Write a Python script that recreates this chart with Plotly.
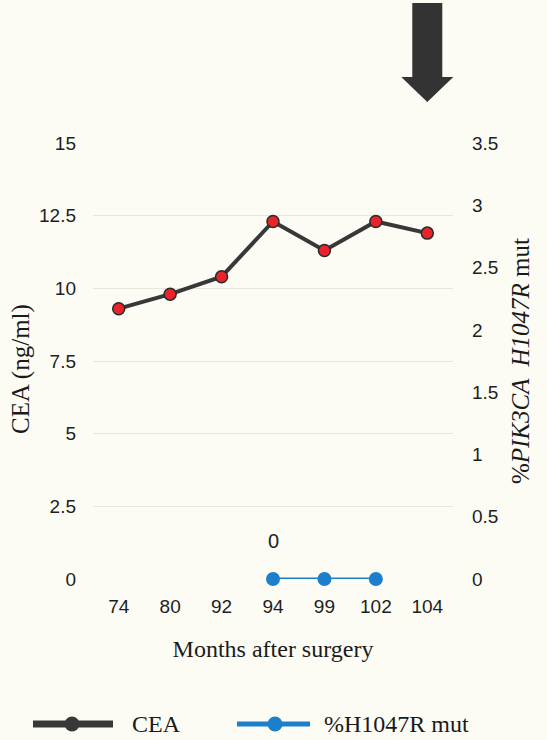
import plotly.graph_objects as go

# Follow-up months after surgery (category axis)
months = ["74", "80", "92", "94", "99", "102", "104"]
# Serum CEA (ng/ml) at each visit
cea = [9.3, 9.8, 10.4, 12.3, 11.3, 12.3, 11.9]
# PIK3CA H1047R mutant allele fraction (%) measured at a subset of visits
mut_months = ["94", "99", "102"]
mut_pct = [0, 0, 0]

left_ticks = [0, 2.5, 5, 7.5, 10, 12.5, 15]
right_ticks = [0, 0.5, 1, 1.5, 2, 2.5, 3, 3.5]

W_FIG, H_FIG = 547, 740
L, R, T, B = 93, 94, 143, 161
PW, PH = W_FIG - L - R, H_FIG - T - B

BG = "#fcfcf5"
DARK = "#383838"
RED = "#e8232b"
BLUE = "#1c7fcc"
SANS = "Liberation Sans, Arial, sans-serif"
SERIF = "Liberation Serif, Times New Roman, serif"


def px_x(p):
    return (p - L) / PW


def px_y(p):
    return (H_FIG - B - p) / PH


fig = go.Figure()

fig.add_trace(go.Scatter(
    x=months, y=cea, name="CEA", mode="lines+markers",
    line=dict(color=DARK, width=4),
    marker=dict(size=12, color=RED, line=dict(color="#2a2a2a", width=1.5)),
    cliponaxis=False, showlegend=False,
))
fig.add_trace(go.Scatter(
    x=mut_months, y=mut_pct, name="%H1047R mut", mode="lines+markers",
    line=dict(color=BLUE, width=3),
    marker=dict(size=14, color=BLUE),
    yaxis="y2", cliponaxis=False, showlegend=False,
))

# value label above the first mutation measurement (category index on x)
fig.add_annotation(
    x=months.index(mut_months[0]), y=mut_pct[0], xref="x", yref="y2",
    text=f"{mut_pct[0]:g}",
    showarrow=False, yshift=38, font=dict(family=SANS, size=20, color="#222"),
)

# left axis title, placed by hand
fig.add_annotation(
    xref="paper", yref="paper", x=px_x(21), y=px_y(369),
    text="CEA (ng/ml)", textangle=-90, showarrow=False,
    xanchor="center", yanchor="middle",
    font=dict(family=SERIF, size=25, color="#1a1a1a"),
)

# big downward arrow marking the last visit
idx = months.index("104")
ax_center = (idx + 0.5) / len(months)
fig.add_shape(
    type="path", xref="paper", yref="paper",
    xsizemode="pixel", ysizemode="pixel", xanchor=ax_center, yanchor=1,
    path="M -15 140 L 15 140 L 15 66 L 26 66 L 0 41 L -26 66 L -15 66 Z",
    fillcolor="#333333", line=dict(width=0),
)

# hand-drawn legend under the chart
legend_y = px_y(724)
items = [
    dict(x0=33, x1=113, cx=72, lw=7, ms=15, color=DARK, label="CEA", tx=130),
    dict(x0=237, x1=310, cx=275, lw=5, ms=15, color=BLUE, label="%H1047R mut", tx=322),
]
for it in items:
    fig.add_shape(type="line", xref="paper", yref="paper",
                  x0=px_x(it["x0"]), x1=px_x(it["x1"]), y0=legend_y, y1=legend_y,
                  line=dict(color=it["color"], width=it["lw"]))
    fig.add_shape(type="circle", xref="paper", yref="paper",
                  xsizemode="pixel", ysizemode="pixel",
                  xanchor=px_x(it["cx"]), yanchor=legend_y,
                  x0=-it["ms"] / 2, x1=it["ms"] / 2, y0=-it["ms"] / 2, y1=it["ms"] / 2,
                  fillcolor=it["color"], line=dict(width=0))
    fig.add_annotation(xref="paper", yref="paper", x=px_x(it["tx"]), y=legend_y,
                       xanchor="left", yanchor="middle", showarrow=False,
                       text=it["label"], font=dict(family=SERIF, size=24, color="#1a1a1a"))

fig.update_layout(
    width=W_FIG, height=H_FIG,
    margin=dict(l=L, r=R, t=T, b=B, autoexpand=False),
    paper_bgcolor=BG, plot_bgcolor=BG,
    showlegend=False,
    xaxis=dict(
        type="category", categoryorder="array", categoryarray=months,
        range=[-0.5, len(months) - 0.5], showgrid=False, zeroline=False,
        showline=False, ticks="", ticklabelstandoff=14,
        tickfont=dict(family=SANS, size=19, color="#1e1e1e"),
        title=dict(text="Months after surgery", standoff=24,
                   font=dict(family=SERIF, size=24, color="#1a1a1a")),
        automargin=False,
    ),
    yaxis=dict(
        range=[0, 15], tickvals=left_ticks, showgrid=True,
        gridcolor="#e6e6dc", gridwidth=1, zeroline=False, showline=False,
        ticks="", ticklabelstandoff=16,
        tickfont=dict(family=SANS, size=19, color="#1e1e1e"),
        automargin=False,
    ),
    yaxis2=dict(
        overlaying="y", side="right", range=[0, 3.5], tickvals=right_ticks,
        showgrid=False, zeroline=False, showline=False, ticks="",
        ticklabelstandoff=18,
        tickfont=dict(family=SANS, size=19, color="#1e1e1e"),
        title=dict(text="%<i>PIK3CA  H1047R</i> mut", standoff=14,
                   font=dict(family=SERIF, size=25, color="#1a1a1a")),
        automargin=False,
    ),
)

fig.write_html("out.html")
